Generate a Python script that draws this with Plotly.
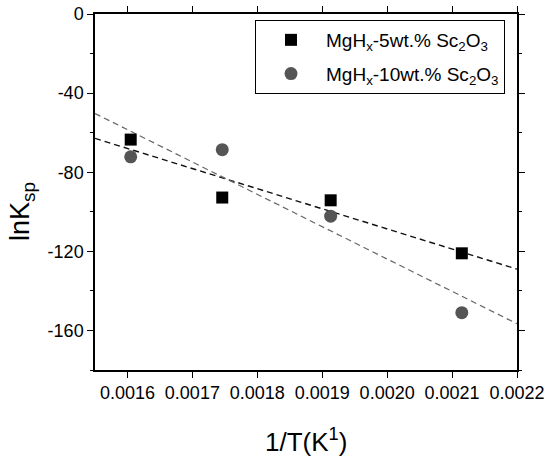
import numpy as np
import plotly.graph_objects as go

# 1/T (K^-1) for the four hydrogenation temperatures
inv_T = [0.001605, 0.001746, 0.001913, 0.002115]

# ln K_sp for the two Sc2O3 loadings
lnK_5wt = [-63.5, -92.8, -94.2, -121.0]
lnK_10wt = [-72.2, -68.6, -102.2, -151.0]

x_ticks = [0.0016, 0.0017, 0.0018, 0.0019, 0.0020, 0.0021, 0.0022]
x_ticktext = ["0.0016", "0.0017", "0.0018", "0.0019", "0.0020", "0.0021", "0.0022"]
y_ticks = [0, -40, -80, -120, -160]
y_ticktext = ["0", "-40", "-80", "-120", "-160"]
y_minor = [-20, -60, -100, -140, -180]

x_range = [0.00155, 0.0022]
y_range = [-180, 0]

FONT = "Arial, 'Liberation Sans', sans-serif"

fig = go.Figure()

# linear least-squares fits drawn across the full x range
fit_x = np.array(x_range)
for ys, color, width in [(lnK_5wt, "#111111", 1.4), (lnK_10wt, "#666666", 1.2)]:
    k, b = np.polyfit(inv_T, ys, 1)
    fig.add_trace(go.Scatter(
        x=fit_x, y=k * fit_x + b, mode="lines",
        line=dict(color=color, width=width, dash="6px,4px"),
        showlegend=False, hoverinfo="skip",
    ))

fig.add_trace(go.Scatter(
    x=inv_T, y=lnK_5wt, mode="markers", legendgroup="a",
    name="MgH<sub>x</sub>-5wt.% Sc<sub>2</sub>O<sub>3</sub>",
    marker=dict(symbol="square", size=12, color="#000000"),
))
fig.add_trace(go.Scatter(
    x=inv_T, y=lnK_10wt, mode="markers", legendgroup="b",
    name="MgH<sub>x</sub>-10wt.% Sc<sub>2</sub>O<sub>3</sub>",
    marker=dict(symbol="circle", size=13, color="#555555"),
))

axis_common = dict(
    showgrid=False, zeroline=False, showline=True, linecolor="#000000", linewidth=1.5,
    mirror="allticks", ticks="outside", ticklen=6, tickwidth=1.2, tickcolor="#000000",
    tickfont=dict(size=18), automargin=False,
)

fig.update_layout(
    width=548, height=456,
    margin=dict(l=95, r=31, t=14, b=86),
    paper_bgcolor="white", plot_bgcolor="white",
    font=dict(family=FONT, size=18, color="#000000"),
    legend=dict(
        x=(255 - 95) / 422, y=(370 - 20) / 356, xanchor="left", yanchor="top",
        bordercolor="#000000", borderwidth=1, bgcolor="white",
        font=dict(size=19), itemwidth=60, traceorder="grouped", tracegroupgap=6,
    ),
    xaxis=dict(range=x_range, tickvals=x_ticks, ticktext=x_ticktext, **axis_common),
    yaxis=dict(
        range=y_range, tickvals=y_ticks, ticktext=y_ticktext,
        minor=dict(tickvals=y_minor, ticks="outside", ticklen=3,
                   tickwidth=1.2, tickcolor="#000000"),
        **axis_common,
    ),
    annotations=[
        dict(text="1/T(K<sup>1</sup>)", xref="paper", yref="paper",
             x=0.5, y=(370 - 440) / 356, xanchor="center", yanchor="middle",
             showarrow=False, font=dict(size=26)),
        dict(text="lnK<sub>sp</sub>", xref="paper", yref="paper",
             x=(22 - 95) / 422, y=(370 - 212) / 356, xanchor="center", yanchor="middle",
             textangle=-90, showarrow=False, font=dict(size=27)),
    ],
)

fig.write_html("out.html")
